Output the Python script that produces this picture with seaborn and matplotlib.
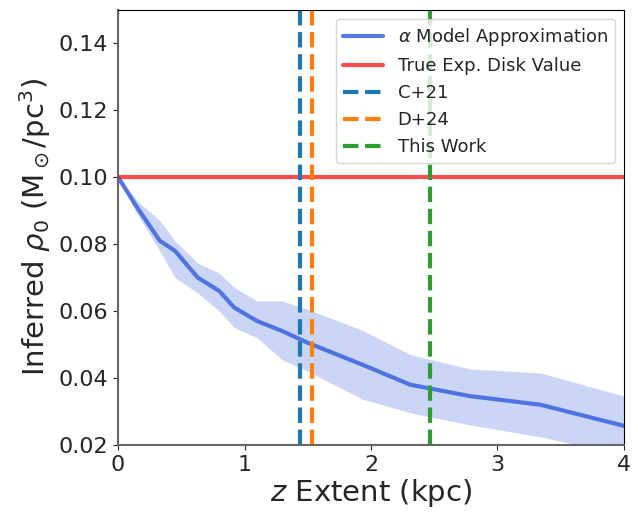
import numpy as np
import pandas as pd
import seaborn as sns
import matplotlib.pyplot as plt

# valores
z_extent = [0, 0.15, 0.33, 0.45, 0.63, 0.8, 0.92, 1.1, 1.3, 1.5, 1.93, 2.31, 2.78, 3.34, 4.0]
rho_mean = [0.100, 0.091, 0.081, 0.078, 0.070, 0.066, 0.061, 0.057, 0.054, 0.0505, 0.044, 0.038, 0.0346, 0.032, 0.0257]
rho_upper = [0.100, 0.093, 0.087, 0.081, 0.0743, 0.0713, 0.067, 0.063, 0.063, 0.0605, 0.0543, 0.047, 0.0427, 0.0415, 0.0346]
rho_lower = [0.100, 0.089, 0.078, 0.070, 0.0654, 0.060, 0.055, 0.052, 0.0454, 0.042, 0.0337, 0.0296, 0.026, 0.0224, 0.017]
rho_true = 0.10
z_c21 = 1.44
z_d24 = 1.53
z_this = 2.47

df = pd.DataFrame({'z': z_extent, 'rho': rho_mean, 'lo': rho_lower, 'hi': rho_upper})

sns.set_style('ticks')
plt.rcParams['font.family'] = ['DejaVu Sans']

fig, ax = plt.subplots(figsize=(6.38, 5.12), dpi=100)

ax.fill_between(df['z'], df['lo'], df['hi'], color='royalblue', alpha=0.27, linewidth=0)
sns.lineplot(data=df, x='z', y='rho', ax=ax, color='royalblue', lw=3, alpha=0.9,
             label=r'$\alpha$ Model Approximation')
ax.axhline(rho_true, color='red', alpha=0.7, lw=3, label='True Exp. Disk Value')
ax.axvline(z_c21, color='tab:blue', ls='--', lw=3, label='C+21')
ax.axvline(z_d24, color='tab:orange', ls='--', lw=3, label='D+24')
ax.axvline(z_this, color='tab:green', ls='--', lw=3, label='This Work')

ax.set_xlim(0, 4)
ax.set_ylim(0.02, 0.15)
ax.set_yticks([0.02, 0.04, 0.06, 0.08, 0.10, 0.12, 0.14])
ax.set_xticks([0, 1, 2, 3, 4])
ax.tick_params(labelsize=16)
ax.set_xlabel(r'$z$ Extent (kpc)', fontsize=21, labelpad=2)
ax.set_ylabel(r'Inferred $\rho_0$ (M$_\odot$/pc$^3$)', fontsize=21, labelpad=4)

for s in ['left', 'bottom']:
    ax.spines[s].set_color('0.4')
    ax.spines[s].set_linewidth(1.5)
for s in ['top', 'right']:
    ax.spines[s].set_color('black')
    ax.spines[s].set_visible(True)

ax.legend(loc='upper right', fontsize=13, handlelength=2.2)

fig.subplots_adjust(left=0.185, right=0.978, top=0.981, bottom=0.131)
plt.savefig('out.png', dpi=100)
